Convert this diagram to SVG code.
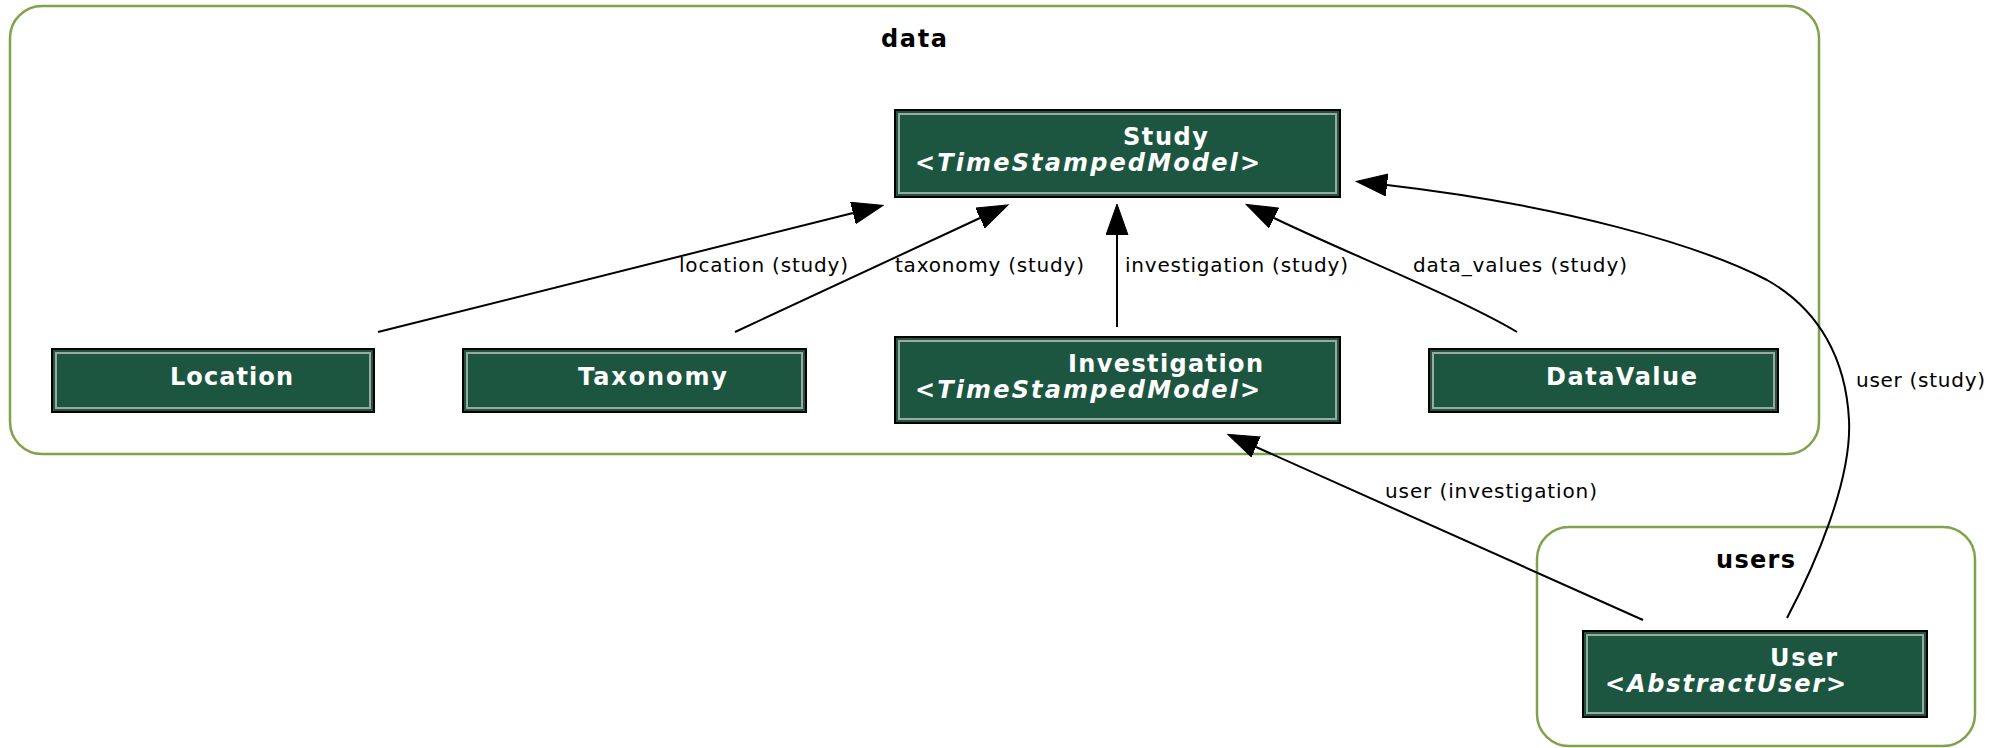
<svg xmlns="http://www.w3.org/2000/svg" width="2002" height="748" viewBox="0 0 2002 748">
<style>
.cluster{fill:none;stroke:#7fa34a;stroke-width:2.5}
.clabel{font-family:"DejaVu Sans",sans-serif;font-weight:bold;font-size:24px;fill:#000}
.box{fill:#1d5640;stroke:#000;stroke-width:2}
.inner{fill:none;stroke:#9ea8a3;stroke-width:2}
.title{font-family:"DejaVu Sans",sans-serif;font-weight:bold;font-size:24px;fill:#fff}
.sub{font-family:"DejaVu Sans",sans-serif;font-weight:bold;font-style:italic;font-size:24px;fill:#fff}
.edge{fill:none;stroke:#000;stroke-width:2}
.elabel{font-family:"DejaVu Sans",sans-serif;font-size:20px;fill:#000}
</style>
<defs>
<marker id="arrow" markerUnits="userSpaceOnUse" markerWidth="32" markerHeight="24" refX="0" refY="11" orient="auto">
<path d="M0,0 L31,11 L0,22 z" fill="#000" stroke="#000" stroke-width="1"/>
</marker>
</defs>
<rect width="2002" height="748" fill="#fff"/>
<g id="cluster_data">
<rect class="cluster" x="10" y="6" width="1809" height="448" rx="32"/>
<text class="clabel" x="881" y="47" textLength="66" lengthAdjust="spacing">data</text>
</g>
<g id="cluster_users">
<rect class="cluster" x="1537" y="527" width="438" height="219" rx="32"/>
<text class="clabel" x="1716" y="568" textLength="79" lengthAdjust="spacing">users</text>
</g>
<g id="connectors">
<path class="edge" d="M378,332 L853,213" marker-end="url(#arrow)"/>
<path class="edge" d="M735,332 L980,218" marker-end="url(#arrow)"/>
<path class="edge" d="M1117,327 L1117,235" marker-end="url(#arrow)"/>
<path class="edge" d="M1517,332 C1460,298 1340,250 1274,218" marker-end="url(#arrow)"/>
<path class="edge" d="M1787,618 C1815,565 1852,480 1849,420 C1846,360 1820,310 1767,280 C1700,245 1560,205 1387,185" marker-end="url(#arrow)"/>
<path class="edge" d="M1643,620 L1256,447" marker-end="url(#arrow)"/>
<text class="elabel" x="679" y="272" textLength="169" lengthAdjust="spacing">location (study)</text>
<text class="elabel" x="895" y="272" textLength="189" lengthAdjust="spacing">taxonomy (study)</text>
<text class="elabel" x="1125" y="272" textLength="223" lengthAdjust="spacing">investigation (study)</text>
<text class="elabel" x="1413" y="272" textLength="214" lengthAdjust="spacing">data_values (study)</text>
<text class="elabel" x="1856" y="387" textLength="129" lengthAdjust="spacing">user (study)</text>
<text class="elabel" x="1385" y="498" textLength="212" lengthAdjust="spacing">user (investigation)</text>
</g>
<g id="node_study">
<rect class="box" x="895" y="110" width="445" height="87"/>
<rect class="inner" x="899" y="114" width="437" height="79"/>
<text class="title" x="1123" y="145" textLength="85" lengthAdjust="spacing">Study</text>
<text class="sub" x="915" y="171" textLength="345" lengthAdjust="spacing">&lt;TimeStampedModel&gt;</text>
</g>
<g id="node_location">
<rect class="box" x="52" y="349" width="322" height="63"/>
<rect class="inner" x="56" y="353" width="314" height="55"/>
<text class="title" x="170" y="385" textLength="123" lengthAdjust="spacing">Location</text>
</g>
<g id="node_taxonomy">
<rect class="box" x="463" y="349" width="343" height="63"/>
<rect class="inner" x="467" y="353" width="335" height="55"/>
<text class="title" x="578" y="385" textLength="149" lengthAdjust="spacing">Taxonomy</text>
</g>
<g id="node_investigation">
<rect class="box" x="895" y="337" width="445" height="86"/>
<rect class="inner" x="899" y="341" width="437" height="78"/>
<text class="title" x="1068" y="372" textLength="195" lengthAdjust="spacing">Investigation</text>
<text class="sub" x="915" y="398" textLength="345" lengthAdjust="spacing">&lt;TimeStampedModel&gt;</text>
</g>
<g id="node_datavalue">
<rect class="box" x="1429" y="349" width="349" height="63"/>
<rect class="inner" x="1433" y="353" width="341" height="55"/>
<text class="title" x="1546" y="385" textLength="151" lengthAdjust="spacing">DataValue</text>
</g>
<g id="node_user">
<rect class="box" x="1583" y="631" width="344" height="86"/>
<rect class="inner" x="1587" y="635" width="336" height="78"/>
<text class="title" x="1770" y="666" textLength="67" lengthAdjust="spacing">User</text>
<text class="sub" x="1605" y="692" textLength="241" lengthAdjust="spacing">&lt;AbstractUser&gt;</text>
</g>
</svg>
